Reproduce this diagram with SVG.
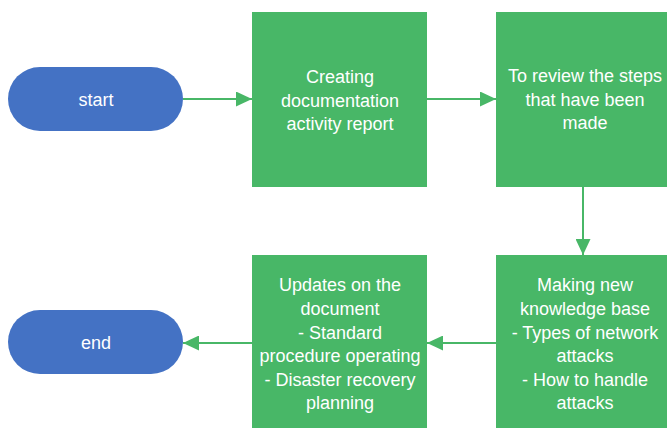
<svg xmlns="http://www.w3.org/2000/svg" width="667" height="428" viewBox="0 0 667 428">
  <style>
    .term { fill: #4472C4; }
    .step { fill: #48B767; }
    .label { font-family: "Liberation Sans", Arial, sans-serif; font-size: 18px; fill: #FFFFFF; text-anchor: middle; }
    .flow { stroke: #48B767; stroke-width: 2; fill: none; marker-end: url(#head); }
  </style>
  <defs>
    <marker id="head" markerWidth="16" markerHeight="15" refX="16" refY="7.5" orient="auto" markerUnits="userSpaceOnUse">
      <path d="M0,0 L16,7.5 L0,15 Z" fill="#48B767"/>
    </marker>
  </defs>
  <rect width="667" height="428" fill="#FFFFFF"/>

  <g id="connectors">
    <line class="flow" x1="183" y1="99" x2="252" y2="99"/>
    <line class="flow" x1="427" y1="99" x2="496" y2="99"/>
    <line class="flow" x1="583" y1="187" x2="583" y2="255"/>
    <line class="flow" x1="496" y1="343" x2="427" y2="343"/>
    <line class="flow" x1="252" y1="343" x2="183" y2="343"/>
  </g>

  <g id="start">
    <rect class="term" x="8" y="67" width="175" height="64" rx="32" ry="32"/>
    <text class="label" x="96" y="106">start</text>
  </g>

  <g id="create-report">
    <rect class="step" x="252" y="12" width="175" height="175"/>
    <text class="label" x="340" y="83">Creating</text>
    <text class="label" x="340" y="107">documentation</text>
    <text class="label" x="340" y="130">activity report</text>
  </g>

  <g id="review-steps">
    <rect class="step" x="496" y="12" width="178" height="175"/>
    <text class="label" x="585" y="82">To review the steps</text>
    <text class="label" x="585" y="106">that have been</text>
    <text class="label" x="585" y="129">made</text>
  </g>

  <g id="knowledge-base">
    <rect class="step" x="496" y="255" width="178" height="180"/>
    <text class="label" x="585" y="291">Making new</text>
    <text class="label" x="585" y="315">knowledge base</text>
    <text class="label" x="585" y="339">- Types of network</text>
    <text class="label" x="585" y="362">attacks</text>
    <text class="label" x="585" y="386">- How to handle</text>
    <text class="label" x="585" y="409">attacks</text>
  </g>

  <g id="update-document">
    <rect class="step" x="252" y="255" width="175" height="180"/>
    <text class="label" x="340" y="291">Updates on the</text>
    <text class="label" x="340" y="315">document</text>
    <text class="label" x="340" y="339">- Standard</text>
    <text class="label" x="340" y="362">procedure operating</text>
    <text class="label" x="340" y="386">- Disaster recovery</text>
    <text class="label" x="340" y="409">planning</text>
  </g>

  <g id="end">
    <rect class="term" x="8" y="310" width="175" height="64" rx="32" ry="32"/>
    <text class="label" x="96" y="349">end</text>
  </g>
</svg>
